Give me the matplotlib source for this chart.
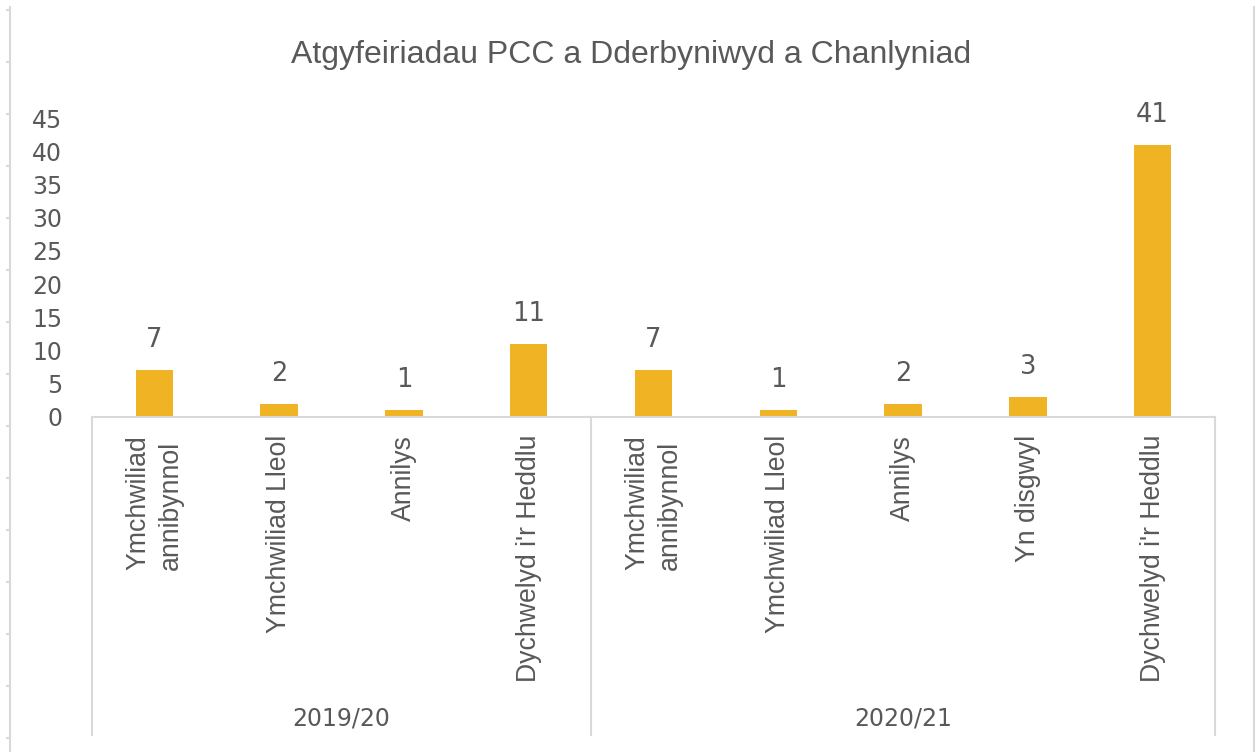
import matplotlib.pyplot as plt
from matplotlib.lines import Line2D

# data
groups = ['2019/20', '2020/21']
group_sizes = [4, 5]
categories = ['Ymchwiliad\nannibynnol', 'Ymchwiliad Lleol', 'Annilys', "Dychwelyd i'r Heddlu",
              'Ymchwiliad\nannibynnol', 'Ymchwiliad Lleol', 'Annilys', 'Yn disgwyl', "Dychwelyd i'r Heddlu"]
values = [7, 2, 1, 11, 7, 1, 2, 3, 41]
yticks = [0, 5, 10, 15, 20, 25, 30, 35, 40, 45]

bar_color = '#F0B323'
text_color = '#595959'
line_color = '#D9D9D9'

W, H = 1257, 752
fig = plt.figure(figsize=(W / 100, H / 100), dpi=100)

# plot area in pixels: x 92..1215, y 118 (45) .. 417 (0)
ax = fig.add_axes([92 / W, 1 - 417 / H, (1215 - 92) / W, (417 - 118) / H])

x = list(range(len(values)))
ax.bar(x, values, width=0.3, color=bar_color, zorder=2)
for xi, v in zip(x, values):
    ax.annotate(str(v), (xi, v), xytext=(0, 17), textcoords='offset pixels',
                ha='center', va='bottom', fontsize=18.5, color=text_color,
                family='DejaVu Sans')

ax.set_xlim(-0.5, len(values) - 0.5)
ax.set_ylim(0, 45)
ax.set_yticks(yticks)
ax.set_yticklabels([str(t) for t in yticks], fontsize=17, color=text_color, family='DejaVu Sans')
ax.tick_params(axis='y', length=0, pad=21.5)
ax.set_xticks([])
for s in ['top', 'right', 'left']:
    ax.spines[s].set_visible(False)
ax.spines['bottom'].set_color(line_color)
ax.spines['bottom'].set_linewidth(1.5)

# category labels (rotated)
tr = ax.get_xaxis_transform()
for xi, c in zip(x, categories):
    ax.text(xi, -0.06, c, transform=tr, rotation=90, ha='center', va='top',
            fontsize=19.2, color=text_color, family='Liberation Sans',
            multialignment='left', linespacing=1.3)

# group separators and labels
bottom = -1.0635
edges = [-0.5]
for n in group_sizes:
    edges.append(edges[-1] + n)
for e in edges:
    ax.plot([e, e], [0, bottom], transform=tr, color=line_color, lw=1.5, clip_on=False)
for g, a, b in zip(groups, edges[:-1], edges[1:]):
    ax.text((a + b) / 2, -1.007, g, transform=tr, ha='center', va='center',
            fontsize=17, color=text_color, family='DejaVu Sans')

# title
fig.text(631 / W, 1 - 55 / H, 'Atgyfeiriadau PCC a Dderbyniwyd a Chanlyniad',
         ha='center', va='center', fontsize=23, color=text_color, family='Liberation Sans')

# worksheet frame lines at left/right edge
fig.add_artist(Line2D([10 / W, 10 / W], [0, 1 - 7 / H], color=line_color, lw=1.5))
fig.add_artist(Line2D([1254 / W, 1254 / W], [0, 1 - 7 / H], color=line_color, lw=1.5))
for k in range(15):
    yp = 10 + 52 * k
    if yp > H:
        break
    fig.add_artist(Line2D([7 / W, 10 / W], [1 - yp / H, 1 - yp / H], color=line_color, lw=1.5))

fig.savefig('out.png', dpi=100, facecolor='white')
